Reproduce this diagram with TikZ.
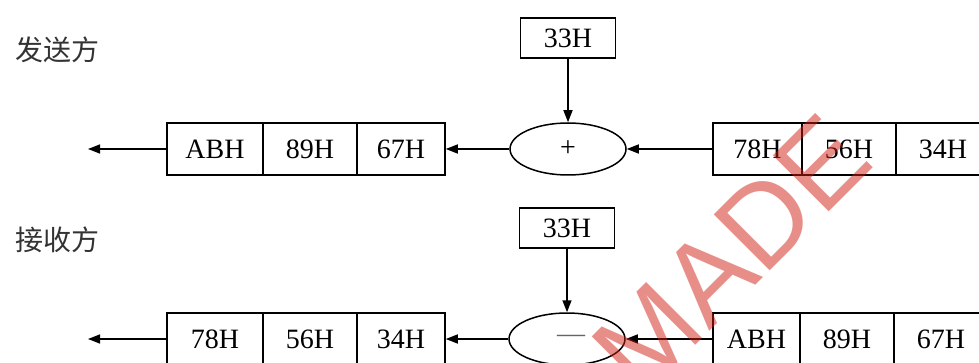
\documentclass[tikz,border=0pt]{standalone}
\usepackage{fontspec}
\setmainfont{Liberation Serif}
\setsansfont{Liberation Sans}
\newfontfamily\cjk{Noto Sans CJK SC}
\usetikzlibrary{arrows.meta,shapes.geometric}
\definecolor{wmred}{RGB}{210,30,20}
\begin{document}
\begin{tikzpicture}[x=1pt,y=-1pt,
  cell/.style={draw,line width=1.5pt,minimum height=52pt,inner sep=0pt,font=\fontsize{28}{30}\selectfont},
  key/.style={draw,line width=1.5pt,minimum width=95pt,minimum height=40pt,inner sep=0pt,font=\fontsize{28}{30}\selectfont},
  op/.style={draw,ellipse,line width=1.5pt,minimum width=116pt,minimum height=52pt,inner sep=0pt,font=\fontsize{28}{30}\selectfont},
  flow/.style={line width=1.5pt,-{Triangle[length=12pt,width=9pt]}},
  lab/.style={font=\cjk\fontsize{28}{30}\selectfont,text=black!80},
  wm/.style={text=wmred,opacity=0.5,inner sep=0pt,font=\sffamily\fontsize{115}{115}\selectfont}]
\useasboundingbox (0,0) rectangle (979,363);
\clip (0,0) rectangle (979,363);
% sender
\node[lab] (s) at (57,50) {发送方};
\node[key] (k1) at (568,38) {33H};
\node[op] (e1) at (568,149) {+};
\node[cell,minimum width=96pt] (a1) at (215,149) {ABH};
\node[cell,minimum width=94pt] (a2) at (310,149) {89H};
\node[cell,minimum width=88pt] (a3) at (401,149) {67H};
\node[cell,minimum width=89pt] (b1) at (757.5,149) {78H};
\node[cell,minimum width=94pt] (b2) at (849,149) {56H};
\node[cell,minimum width=94pt] (b3) at (943,149) {34H};
\coordinate (o1) at (88,149);
\draw[flow] (k1) -- (e1);
\draw[flow] (b1) -- (e1);
\draw[flow] (e1) -- (a3);
\draw[flow] (a1) -- (o1);
% receiver
\node[lab] (r) at (57,240) {接收方};
\node[key] (k2) at (567,228) {33H};
\node[op] (e2) at (567,339) {\hspace{8pt}\textcolor{black!60}{—}};
\node[cell,minimum width=96pt] (c1) at (215,339) {78H};
\node[cell,minimum width=94pt] (c2) at (310,339) {56H};
\node[cell,minimum width=88pt] (c3) at (401,339) {34H};
\node[cell,minimum width=87pt] (d1) at (756.5,339) {ABH};
\node[cell,minimum width=94pt] (d2) at (847,339) {89H};
\node[cell,minimum width=94pt] (d3) at (941,339) {67H};
\coordinate (o2) at (88,339);
\draw[flow] (k2) -- (e2);
\draw[flow] (d1) -- (e2);
\draw[flow] (e2) -- (c3);
\draw[flow] (c1) -- (o2);
% watermark
\node[wm,rotate=45] (wmk) at (731,254) {MADE};
\end{tikzpicture}
\end{document}
